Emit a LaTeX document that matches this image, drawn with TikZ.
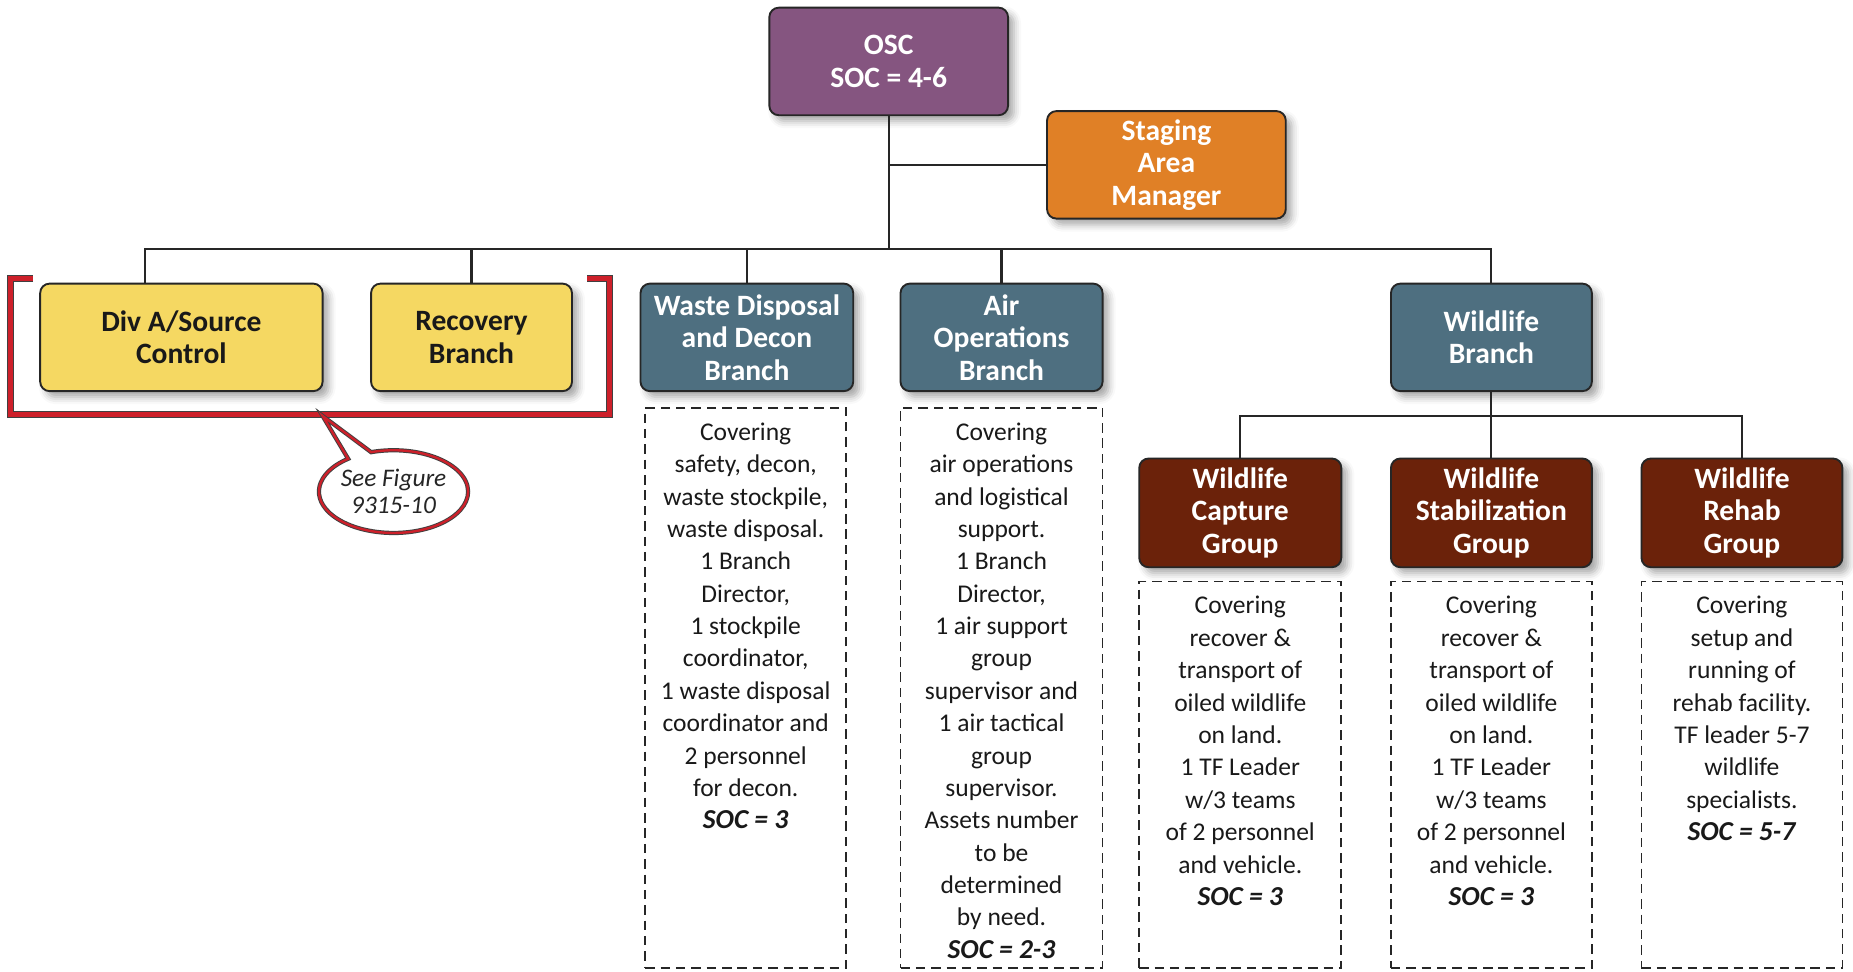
\documentclass[tikz,border=0pt]{standalone}
\usepackage{fontspec}
\setmainfont{Carlito}
\usetikzlibrary{positioning, shapes.callouts, shadows.blur}

\tikzset{
  orgbox/.style={rectangle, rounded corners=4pt, draw=black!85, line width=0.8pt, align=center,
    font=\bfseries\fontsize{12.5}{13.75}\selectfont, minimum height=45.5pt, inner sep=1pt,
    blur shadow={shadow xshift=2.5pt, shadow yshift=-2.5pt, shadow blur radius=3pt, shadow opacity=35}},
  notebox/.style={rectangle, draw=black!85, line width=0.7pt, dash pattern=on 4pt off 2.5pt},
  notetext/.style={inner sep=0pt, align=center, text=black!90, font=\fontsize{10.8}{13.7}\selectfont},
  link/.style={draw=black!85, line width=0.9pt},
  bracket/.style={draw=black!75, line width=0.4pt, double=bracketred, double distance=2.2pt},
}
\newcommand{\soc}[1]{{\fontsize{11.6}{13.7}\selectfont\textbf{\textit{SOC = #1}}}}

\begin{document}
\begin{tikzpicture}[x=0.5pt, y=-0.5pt]
  % Define colors for the levels
  \definecolor{oscpurple}{RGB}{133,85,128}    % OSC
  \definecolor{stageorange}{RGB}{224,128,38}  % staging
  \definecolor{divyellow}{RGB}{245,216,98}    % div / recovery
  \definecolor{branchslate}{RGB}{78,111,128}  % branches
  \definecolor{groupbrown}{RGB}{107,34,10}    % wildlife groups
  \definecolor{bracketred}{RGB}{205,32,42}    % bracket and callout

  \useasboundingbox (0,0) rectangle (1568,822);

  % Top level
  \node[orgbox, fill=oscpurple, text=white, minimum width=101pt] (osc) at (752,52) {OSC\\SOC = 4-6};
  \node[orgbox, fill=stageorange, text=white, minimum width=101pt] (staging) at (987,139.5) {Staging\\Area\\Manager};

  % Branches
  \node[orgbox, fill=divyellow, text=black!90, minimum width=119.5pt] (diva) at (153.5,285.5) {Div A/Source\\Control};
  \node[orgbox, fill=divyellow, text=black!90, minimum width=85pt] (recovery) at (399,285.5) {Recovery\\Branch};
  \node[orgbox, fill=branchslate, text=white, minimum width=90pt] (waste) at (632,285.5) {Waste Disposal\\and Decon\\Branch};
  \node[orgbox, fill=branchslate, text=white, minimum width=85.5pt] (air) at (847.5,285.5) {Air\\Operations\\Branch};
  \node[orgbox, fill=branchslate, text=white, minimum width=85pt] (wildlife) at (1262,285.5) {Wildlife\\Branch};

  % Wildlife groups
  \node[orgbox, fill=groupbrown, text=white, minimum width=85.5pt, minimum height=46pt] (capture) at (1049.5,434) {Wildlife\\Capture\\Group};
  \node[orgbox, fill=groupbrown, text=white, minimum width=85pt, minimum height=46pt] (stabil) at (1262,434) {Wildlife\\Stabilization\\Group};
  \node[orgbox, fill=groupbrown, text=white, minimum width=85pt, minimum height=46pt] (rehab) at (1474,434) {Wildlife\\Rehab\\Group};

  % Connectors
  \coordinate (hub) at (752,211);
  \coordinate (wildhub) at (1262,352);
  \draw[link] (osc.south) -- (hub);
  \draw[link] (osc.south |- staging.west) -- (staging.west);
  \draw[link] ([xshift=-15.25pt]diva.north) |- (hub) -| (wildlife.north);
  \foreach \b in {recovery, waste, air}
    \draw[link] (\b.north) -- (\b.north |- hub);
  \draw[link] (wildlife.south) -- (stabil.north);
  \draw[link] (capture.north) |- (wildhub) -| (rehab.north);

  % Notes under the branches
  \node[notebox, minimum width=85pt, minimum height=237pt] (wastenote) at (631,582) {};
  \node[notetext, below=6.5pt of wastenote.north] (wastetext) {Covering\\safety, decon,\\waste stockpile,\\waste disposal.\\1 Branch\\Director,\\1 stockpile\\coordinator,\\1 waste disposal\\coordinator and\\2 personnel\\for decon.\\\soc{3}};
  \node[notebox, minimum width=85.5pt, minimum height=237pt] (airnote) at (847.5,582) {};
  \node[notetext, below=6.5pt of airnote.north] (airtext) {Covering\\air operations\\and logistical\\support.\\1 Branch\\Director,\\1 air support\\group\\supervisor and\\1 air tactical\\group\\supervisor.\\Assets number\\to be\\determined\\by need.\\\soc{2-3}};

  % Notes under the groups
  \node[notebox, minimum width=85.5pt, minimum height=163.5pt] (capnote) at (1049.5,655.5) {};
  \node[notetext, below=6.5pt of capnote.north] (captext) {Covering\\recover \&\\transport of\\oiled wildlife\\on land.\\1 TF Leader\\w/3 teams\\of 2 personnel\\and vehicle.\\\soc{3}};
  \node[notebox, minimum width=85pt, minimum height=163.5pt] (stabnote) at (1262,655.5) {};
  \node[notetext, below=6.5pt of stabnote.north] (stabtext) {Covering\\recover \&\\transport of\\oiled wildlife\\on land.\\1 TF Leader\\w/3 teams\\of 2 personnel\\and vehicle.\\\soc{3}};
  \node[notebox, minimum width=85pt, minimum height=163.5pt] (rehabnote) at (1474,655.5) {};
  \node[notetext, below=6.5pt of rehabnote.north] (rehabtext) {Covering\\setup and\\running of\\rehab facility.\\TF leader 5-7\\wildlife\\specialists.\\\soc{5-7}};

  % Bracket and callout
  \draw[bracket] (28,236) -- (9,236) -- (9,351) -- (516,351) -- (516,236) -- (497,236);
  \coordinate (bracktip) at (273,352);
  \node[ellipse callout, callout absolute pointer={(bracktip)}, callout pointer arc=20, fill=white,
    draw=black!75, line width=0.4pt, double=bracketred, double distance=1pt,
    inner sep=0pt, minimum width=62pt, minimum height=35pt, align=center, text=black!85,
    font=\itshape\fontsize{10.7}{11.2}\selectfont] (seefig) at (333,416) {See Figure\\9315-10};
\end{tikzpicture}
\end{document}
